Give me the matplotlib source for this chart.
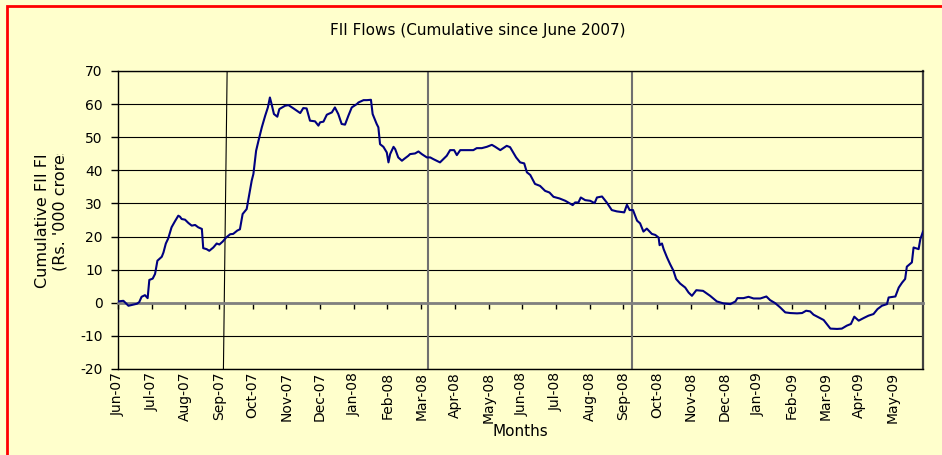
import matplotlib
matplotlib.use("Agg")
import matplotlib.pyplot as plt
from matplotlib.patches import Rectangle
from matplotlib.transforms import Bbox, TransformedBbox

plt.rcParams['font.family'] = ['DejaVu Sans']
plt.rcParams['axes.unicode_minus'] = False

##### data (months since June 2007, Rs. '000 crore) #####
month_labels = ["Jun-07", "Jul-07", "Aug-07", "Sep-07", "Oct-07", "Nov-07",
                "Dec-07", "Jan-08", "Feb-08", "Mar-08", "Apr-08", "May-08",
                "Jun-08", "Jul-08", "Aug-08", "Sep-08", "Oct-08", "Nov-08",
                "Dec-08", "Jan-09", "Feb-09", "Mar-09", "Apr-09", "May-09"]

months = [0.00, 0.16, 0.31, 0.56, 0.63, 0.70, 0.80, 0.88, 0.93, 1.03,
          1.10, 1.17, 1.30, 1.35, 1.42, 1.49, 1.59, 1.69, 1.79, 1.84,
          1.89, 1.99, 2.09, 2.19, 2.29, 2.38, 2.49, 2.53, 2.63, 2.71,
          2.83, 2.93, 3.01, 3.11, 3.21, 3.33, 3.42, 3.54, 3.62, 3.70,
          3.82, 3.90, 3.97, 4.02, 4.10, 4.17, 4.27, 4.37, 4.45, 4.51,
          4.56, 4.63, 4.73, 4.79, 4.96, 5.06, 5.21, 5.41, 5.50, 5.60,
          5.70, 5.85, 5.95, 6.00, 6.10, 6.20, 6.35, 6.44, 6.54, 6.64,
          6.74, 6.84, 6.94, 7.09, 7.14, 7.29, 7.39, 7.51, 7.56, 7.68,
          7.73, 7.78, 7.88, 7.98, 8.03, 8.08, 8.18, 8.23, 8.32, 8.43,
          8.49, 8.62, 8.67, 8.82, 8.92, 9.02, 9.17, 9.27, 9.36, 9.56,
          9.66, 9.76, 9.86, 9.98, 10.06, 10.16, 10.36, 10.55, 10.65, 10.80,
          10.95, 11.10, 11.20, 11.35, 11.54, 11.64, 11.82, 11.94, 12.06, 12.14,
          12.24, 12.38, 12.53, 12.68, 12.81, 12.93, 13.11, 13.28, 13.50, 13.57,
          13.67, 13.74, 13.87, 14.02, 14.15, 14.22, 14.37, 14.51, 14.66, 14.81,
          15.03, 15.11, 15.19, 15.29, 15.41, 15.50, 15.60, 15.70, 15.85, 15.95,
          16.05, 16.08, 16.15, 16.20, 16.30, 16.39, 16.49, 16.57, 16.69, 16.84,
          16.94, 17.04, 17.17, 17.37, 17.58, 17.78, 17.98, 18.18, 18.33, 18.39,
          18.57, 18.72, 18.87, 19.07, 19.25, 19.36, 19.51, 19.66, 19.81, 19.96,
          20.16, 20.31, 20.43, 20.55, 20.65, 20.80, 20.95, 21.15, 21.35, 21.49,
          21.64, 21.76, 21.86, 21.99, 22.14, 22.28, 22.43, 22.55, 22.68, 22.83,
          22.88, 23.08, 23.18, 23.28, 23.37, 23.42, 23.57, 23.62, 23.77, 23.82,
          23.90]

flows = [0.4, 0.6, -0.9, -0.3, 0.2, 1.8, 2.3, 1.4, 6.9, 7.3,
         8.7, 12.7, 13.9, 15.2, 17.9, 19.4, 22.8, 24.6, 26.3, 26.0,
         25.3, 25.1, 24.1, 23.3, 23.5, 22.8, 22.3, 16.5, 16.2, 15.7,
         16.7, 17.9, 17.6, 18.5, 19.7, 20.7, 20.8, 21.8, 22.2, 26.8,
         28.3, 32.8, 36.9, 38.9, 45.9, 48.9, 53.0, 56.5, 59.0, 62.0,
         60.0, 57.0, 56.2, 58.5, 59.5, 59.7, 58.7, 57.3, 58.8, 58.7,
         55.0, 54.8, 53.5, 54.5, 54.7, 56.8, 57.5, 59.0, 57.0, 54.0,
         53.8, 56.5, 59.0, 60.0, 60.5, 61.2, 61.2, 61.3, 57.0, 54.0,
         53.0, 47.9, 47.1, 45.4, 42.4, 44.9, 47.1, 46.4, 43.9, 42.9,
         43.4, 44.4, 44.9, 45.1, 45.7, 44.9, 43.9, 43.9, 43.4, 42.4,
         43.4, 44.4, 46.1, 46.1, 44.6, 46.1, 46.1, 46.1, 46.7, 46.7,
         47.1, 47.7, 47.1, 46.1, 47.4, 47.0, 43.9, 42.4, 42.1, 39.4,
         38.6, 35.9, 35.3, 33.8, 33.3, 32.0, 31.5, 30.8, 29.5, 30.3,
         30.3, 31.8, 31.0, 30.8, 30.1, 31.8, 32.1, 30.3, 28.0, 27.6,
         27.3, 29.6, 28.0, 28.0, 24.8, 24.0, 21.5, 22.4, 20.8, 20.5,
         19.7, 17.4, 17.9, 16.2, 13.7, 11.7, 9.7, 7.2, 5.8, 4.6,
         3.1, 2.1, 3.8, 3.6, 2.1, 0.4, -0.2, -0.4, 0.4, 1.4,
         1.4, 1.8, 1.3, 1.3, 1.9, 0.8, -0.1, -1.4, -2.9, -3.1,
         -3.2, -3.1, -2.4, -2.6, -3.6, -4.4, -5.2, -7.8, -7.9, -7.8,
         -6.9, -6.4, -4.2, -5.4, -4.6, -3.9, -3.4, -1.9, -0.9, -0.4,
         1.6, 1.9, 4.6, 6.1, 7.2, 10.9, 12.2, 16.7, 16.2, 19.2,
         21.5]

# hand drawn event markers (top / bottom position in months)
event_top = [3.24, 9.21, 15.27]
event_bottom = [3.13, 9.21, 15.27]
event_colors = ["black", "#707070", "#707070"]
event_widths = [0.8, 1.5, 1.5]

bg = "#FFFFCC"

fig = plt.figure(figsize=(9.42, 4.55), dpi=100, facecolor=bg)
ax = fig.add_axes([118 / 942, 1 - 369 / 455, (923 - 118) / 942, (369 - 71) / 455], facecolor=bg)

ax.plot(months, flows, color="#000080", lw=1.5, zorder=4)

for top, bottom, c, w in zip(event_top, event_bottom, event_colors, event_widths):
    ax.plot([top, bottom], [1, 0], transform=ax.get_xaxis_transform(), color=c, lw=w, zorder=2.5)

ax.set_xlim(0, 23.9)
ax.set_ylim(-20, 70)
ax.set_yticks(range(-20, 71, 10))
ax.yaxis.grid(True, color="black", lw=0.8)

ax.set_xticks(range(len(month_labels)))
ax.set_xticklabels(month_labels, rotation=90, va="top")
ax.tick_params(axis="x", length=0, pad=2, labelsize=10)
ax.tick_params(axis="y", length=5, width=1, pad=6, labelsize=10)

for s in ["left", "top", "bottom"]:
    ax.spines[s].set_color("black")
    ax.spines[s].set_linewidth(1)
ax.spines["right"].set_color("#404040")
ax.spines["right"].set_linewidth(1.6)

# axis line through zero with month tick marks
zero = ax.secondary_xaxis(0, transform=ax.transData)
zero.set_xticks(range(len(month_labels)))
zero.tick_params(length=4, width=1, direction="out", labelbottom=False)
zero.spines["bottom"].set_color("#808080")
zero.spines["bottom"].set_linewidth(2)
zero.set_zorder(3)

fig.text(478 / 942, 1 - 31 / 455, "FII Flows (Cumulative since June 2007)",
         ha="center", va="center", fontsize=11)
fig.text(520 / 942, 1 - 432 / 455, "Months", ha="center", va="center", fontsize=11)

# y label is cut off in the original chart
yl = fig.text(51 / 942, 1 - 288 / 455, "Cumulative FII Flows\n(Rs. '000 crores)",
              rotation=90, ha="center", va="bottom", multialignment="center",
              fontsize=11.5, linespacing=1.2)
yl.set_clip_box(TransformedBbox(Bbox.from_extents(0, 0, 0.12, 1 - 154 / 455), fig.transFigure))

# red frame
fig.add_artist(Rectangle((7 / 942, -0.5), 2, 1.5 - 6 / 455, transform=fig.transFigure,
                         fill=False, ec="red", lw=2, clip_on=False))

fig.savefig("out.png", dpi=100, facecolor=bg)
